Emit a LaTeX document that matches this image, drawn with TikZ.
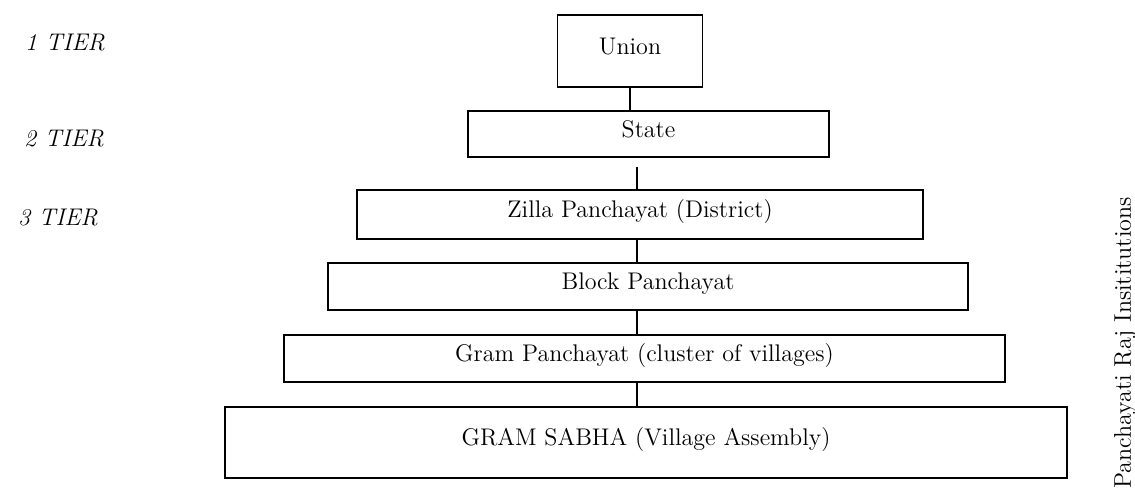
\documentclass[tikz,border=0pt]{standalone}
\begin{document}
\begin{tikzpicture}[x=0.02cm, y=-0.02cm,
    every node/.style={font=\fontsize{13.7}{16}\selectfont},
    tierbox/.style={draw=black, line width=1.1pt, inner sep=0pt, text height=0.7em, text depth=0.33em},
    tierlabel/.style={anchor=west, font=\fontsize{13.7}{16}\selectfont\itshape},
    link/.style={line width=1.3pt}]
    \useasboundingbox (0,0) rectangle (1135,499);
    \node[tierbox, minimum width=2.9cm, minimum height=1.44cm] (union) at (630,51) {Union};
    \node[tierbox, minimum width=7.22cm, minimum height=0.92cm] (state) at (648.5,134) {State};
    \node[tierbox, minimum width=11.32cm, minimum height=0.98cm] (zilla) at (640,214.5) {Zilla Panchayat (District)};
    \node[tierbox, minimum width=12.8cm, minimum height=0.94cm] (block) at (648,286.5) {Block Panchayat};
    \node[tierbox, minimum width=14.42cm, minimum height=0.94cm] (gram) at (644.5,358.5) {Gram Panchayat (cluster of villages)};
    \node[tierbox, minimum width=16.84cm, minimum height=1.42cm] (sabha) at (646,442.5) {GRAM SABHA (Village Assembly)};
    \coordinate (tick) at (637,167);
    \draw[link] (union.south) -- (union.south |- state.north);
    \draw[link] (tick) -- (tick |- zilla.north);
    \draw[link] (tick |- zilla.south) -- (tick |- block.north);
    \draw[link] (tick |- block.south) -- (tick |- gram.north);
    \draw[link] (tick |- gram.south) -- (tick |- sabha.north);
    \node[tierlabel] (tier1) at (19,42.5) {1 TIER};
    \node[tierlabel] (tier2) at (18,138.5) {2 TIER};
    \node[tierlabel] (tier3) at (12,217.5) {3 TIER};
    \node[rotate=90] (pri) at (1125,343) {Panchayati Raj Insititutions};
\end{tikzpicture}
\end{document}
